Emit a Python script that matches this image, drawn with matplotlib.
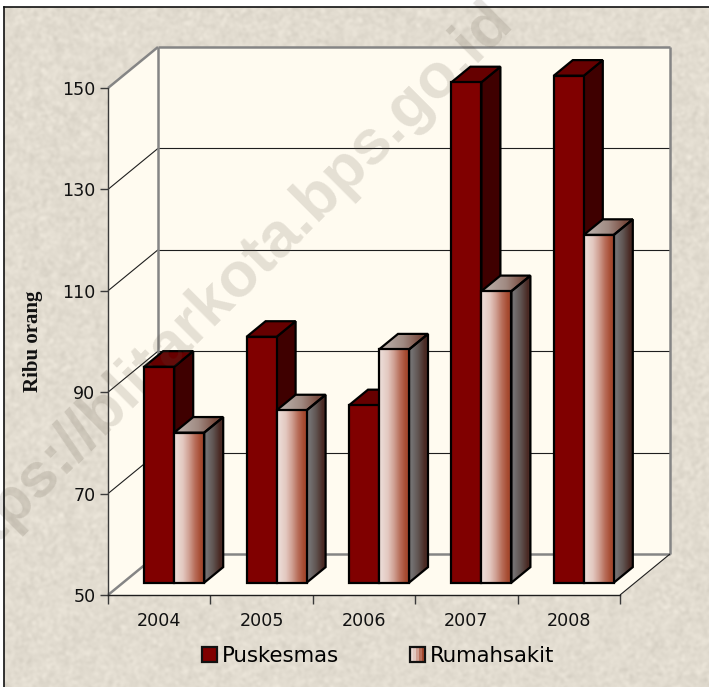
import numpy as np
import matplotlib
matplotlib.use("Agg")
import matplotlib.pyplot as plt
from matplotlib.patches import Polygon, Rectangle
from matplotlib.lines import Line2D
from matplotlib.legend_handler import HandlerBase

# ---- data ----
years = ["2004", "2005", "2006", "2007", "2008"]
puskesmas = [92.6, 98.5, 85.0, 148.7, 150.0]
rumahsakit = [79.6, 84.0, 96.0, 107.5, 118.6]
y_ticks = [50, 70, 90, 110, 130, 150]
series_names = ["Puskesmas", "Rumahsakit"]
watermark = "https://blitarkota.bps.go.id"

W, H = 709, 687
fig = plt.figure(figsize=(W / 100, H / 100), dpi=100)
BG = (226 / 255, 220 / 255, 208 / 255)
fig.patch.set_facecolor("white")

# paper texture (decoration only), inside the outer frame
bg_ax = fig.add_axes([3.5 / W, 0, 1 - 3.5 / W, 1 - 6.5 / H], zorder=-5)
rng = np.random.default_rng(3)
noise = rng.normal(0, 1, (H, W))
for _ in range(3):
    for axis in (0, 1):
        noise = (np.roll(noise, 1, axis) + noise + np.roll(noise, -1, axis)) / 3
noise /= noise.std()
tex = np.array(BG)[None, None, :] + (noise * 0.013)[:, :, None]
bg_ax.imshow(np.clip(tex, 0, 1), aspect="auto", interpolation="bilinear")
bg_ax.axis("off")

# front plane of the chart box
L, R, T, B = 108, 620, 88, 595
ax = fig.add_axes([L / W, 1 - B / H, (R - L) / W, (B - T) / H])
ax.patch.set_visible(False)
ax.set_xlim(0, 5)
ax.set_ylim(50, 150)

DX = 50 / ((R - L) / 5)        # depth in category units
DY = 41 / ((B - T) / 100)      # depth in value units


def proj(x, v, z):
    return (x + z * DX, v + z * DY)


CREAM = "#fffbf0"
GRAY = "#858585"
LINE = "#1e1e1e"
AXIS = "#3a3a3a"
x0, x1, v0, v1 = 0, 5, 50, 150

ax.add_patch(Polygon([proj(x0, v0, 1), proj(x1, v0, 1), proj(x1, v1, 1), proj(x0, v1, 1)],
                     fc=CREAM, ec="none", clip_on=False, zorder=1))
ax.add_patch(Polygon([proj(x0, v0, 0), proj(x0, v0, 1), proj(x0, v1, 1), proj(x0, v1, 0)],
                     fc=CREAM, ec="none", clip_on=False, zorder=1))
ax.add_patch(Polygon([proj(x0, v0, 0), proj(x1, v0, 0), proj(x1, v0, 1), proj(x0, v0, 1)],
                     fc=CREAM, ec="none", clip_on=False, zorder=1))


def seg(a, b, color, lw):
    ax.plot([a[0], b[0]], [a[1], b[1]], color=color, lw=lw, clip_on=False, zorder=2,
            solid_capstyle="butt")


for t in y_ticks[1:-1]:
    seg(proj(x0, t, 0), proj(x0, t, 1), LINE, 0.8)
    seg(proj(x0, t, 1), proj(x1, t, 1), LINE, 0.8)
seg(proj(x0, v1, 0), proj(x0, v1, 1), GRAY, 1.8)
seg(proj(x0, v1, 1), proj(x1, v1, 1), GRAY, 1.8)
seg(proj(x0, v0, 0), proj(x0, v0, 1), GRAY, 1.8)
seg(proj(x0, v0, 1), proj(x1, v0, 1), GRAY, 1.8)
seg(proj(x0, v0, 1), proj(x0, v1, 1), GRAY, 1.8)
seg(proj(x1, v0, 1), proj(x1, v1, 1), GRAY, 1.8)
seg(proj(x1, v0, 0), proj(x1, v0, 1), LINE, 0.8)

# bars
Z0, Z1 = 0.30, 0.68
BAR_W = 30 / ((R - L) / 5)
GAP = (1 - 2 * BAR_W) / 2

DARK = "#800000"
DARK_SIDE = "#3f0000"
DARK_TOP = "#660000"
P_FRONT = ["#ead9d3", "#e3c8c0", "#d0a093", "#b86e5a", "#a5492f"]
P_SIDE = ["#737070", "#5f5350", "#4a2a24"]
P_TOP = ["#b5a8a2", "#a08a82", "#7a4d40"]
EDGE_LW = 1.6


def gradient_poly(pts, stops, zorder):
    pts = np.array(pts)
    stops = np.array([matplotlib.colors.to_rgb(c) for c in stops])[None, :, :]
    im = ax.imshow(stops, extent=(pts[:, 0].min(), pts[:, 0].max(), pts[:, 1].min(), pts[:, 1].max()),
                   aspect="auto", interpolation="bilinear", origin="lower", zorder=zorder)
    clip = Polygon(pts, transform=ax.transData)
    im.set_clip_box(fig.bbox)
    im.set_clip_path(clip)
    ax.add_patch(Polygon(pts, fc="none", ec="black", lw=EDGE_LW, clip_on=False, zorder=zorder + 0.01,
                         joinstyle="miter"))


def flat_poly(pts, color, zorder):
    ax.add_patch(Polygon(pts, fc=color, ec="black", lw=EDGE_LW, clip_on=False, zorder=zorder,
                         joinstyle="miter"))


z = 3.0
for i, (p, r) in enumerate(zip(puskesmas, rumahsakit)):
    a = i + GAP
    b = a + BAR_W
    c = b + BAR_W
    # Puskesmas
    flat_poly([proj(b, 50, Z0), proj(b, 50, Z1), proj(b, p, Z1), proj(b, p, Z0)], DARK_SIDE, z - 0.1)
    flat_poly([proj(a, p, Z0), proj(b, p, Z0), proj(b, p, Z1), proj(a, p, Z1)], DARK_TOP, z - 0.1)
    flat_poly([proj(a, 50, Z0), proj(b, 50, Z0), proj(b, p, Z0), proj(a, p, Z0)], DARK, z)
    # Rumahsakit
    gradient_poly([proj(b, r, Z0), proj(c, r, Z0), proj(c, r, Z1), proj(b, r, Z1)], P_TOP, z + 0.2)
    gradient_poly([proj(c, 50, Z0), proj(c, 50, Z1), proj(c, r, Z1), proj(c, r, Z0)], P_SIDE, z + 0.2)
    gradient_poly([proj(b, 50, Z0), proj(c, 50, Z0), proj(c, r, Z0), proj(b, r, Z0)], P_FRONT, z + 0.3)
    z += 1

ax.set_xlim(0, 5)
ax.set_ylim(50, 150)

# axes
for s in ("top", "right"):
    ax.spines[s].set_visible(False)
ax.spines["left"].set_linewidth(1.0)
ax.spines["left"].set_color(AXIS)
ax.spines["bottom"].set_linewidth(1.0)
ax.spines["bottom"].set_color(LINE)
for s in ("left", "bottom"):
    ax.spines[s].set_zorder(2.5)

TICK_FONT = "DejaVu Sans"
TICK_SIZE = 12.6
ax.set_yticks(y_ticks)
ax.set_yticklabels([str(t) for t in y_ticks], fontsize=TICK_SIZE, family=TICK_FONT, color="#111111")
ax.tick_params(axis="y", length=6, width=1.0, color=AXIS, pad=3)
ax.set_xticks(range(6))
ax.set_xticklabels([])
ax.set_xticks(np.arange(5) + 0.5, minor=True)
ax.set_xticklabels(years, minor=True, fontsize=TICK_SIZE, family=TICK_FONT, color="#111111")
ax.tick_params(axis="x", which="major", length=6.5, width=1.0, color=AXIS)
ax.tick_params(axis="x", which="minor", length=0, pad=12.5)

fig.text(33 / W, 1 - 341 / H, "Ribu orang", rotation=90, ha="center", va="center",
         family="Liberation Serif", fontweight="bold", fontsize=15, color="#111111")


# legend
class SwatchHandler(HandlerBase):
    def create_artists(self, legend, orig, xd, yd, width, height, fontsize, trans):
        stops = orig.get_gid()
        sx, sw = -xd, width
        sy, sh = 0, width
        arts = []
        if stops == "solid":
            arts.append(Rectangle((sx, sy), sw, sh, fc=DARK, ec="none", transform=trans))
        else:
            n = len(P_FRONT)
            for k, col in enumerate(P_FRONT):
                arts.append(Rectangle((sx + k * sw / n, sy), sw / n + 0.3, sh, fc=col, ec="none", transform=trans))
        arts.append(Rectangle((sx, sy), sw, sh, fc="none", ec="#111111", lw=1.6, transform=trans))
        return arts


h1 = Rectangle((0, 0), 1, 1, gid="solid")
h2 = Rectangle((0, 0), 1, 1, gid="grad")
leg = fig.legend([h1, h2], series_names, handler_map={Rectangle: SwatchHandler()},
                 loc="center", bbox_to_anchor=(378 / W, 1 - 655.5 / H), ncol=2, frameon=False,
                 prop={"family": "DejaVu Sans", "size": 15.3}, handlelength=0.7, handletextpad=0.24,
                 columnspacing=3.32)

# frame
fig.add_artist(Line2D([3.5 / W, 3.5 / W], [0, 1 - 6.5 / H], color="#111111", lw=1.2))
fig.add_artist(Line2D([3.5 / W, 1], [1 - 6.5 / H, 1 - 6.5 / H], color="#111111", lw=1.2))

# watermark: above the walls, behind the bars
ax.text(515 / W, 1 - 23 / H, watermark, transform=fig.transFigure, rotation=45, rotation_mode="anchor",
        ha="right", va="baseline", family="Liberation Sans", fontweight="bold", fontsize=45.5,
        color="#5a5040", alpha=0.16, zorder=2.9, clip_on=False)

fig.savefig("out.png", dpi=100, facecolor=fig.get_facecolor())
